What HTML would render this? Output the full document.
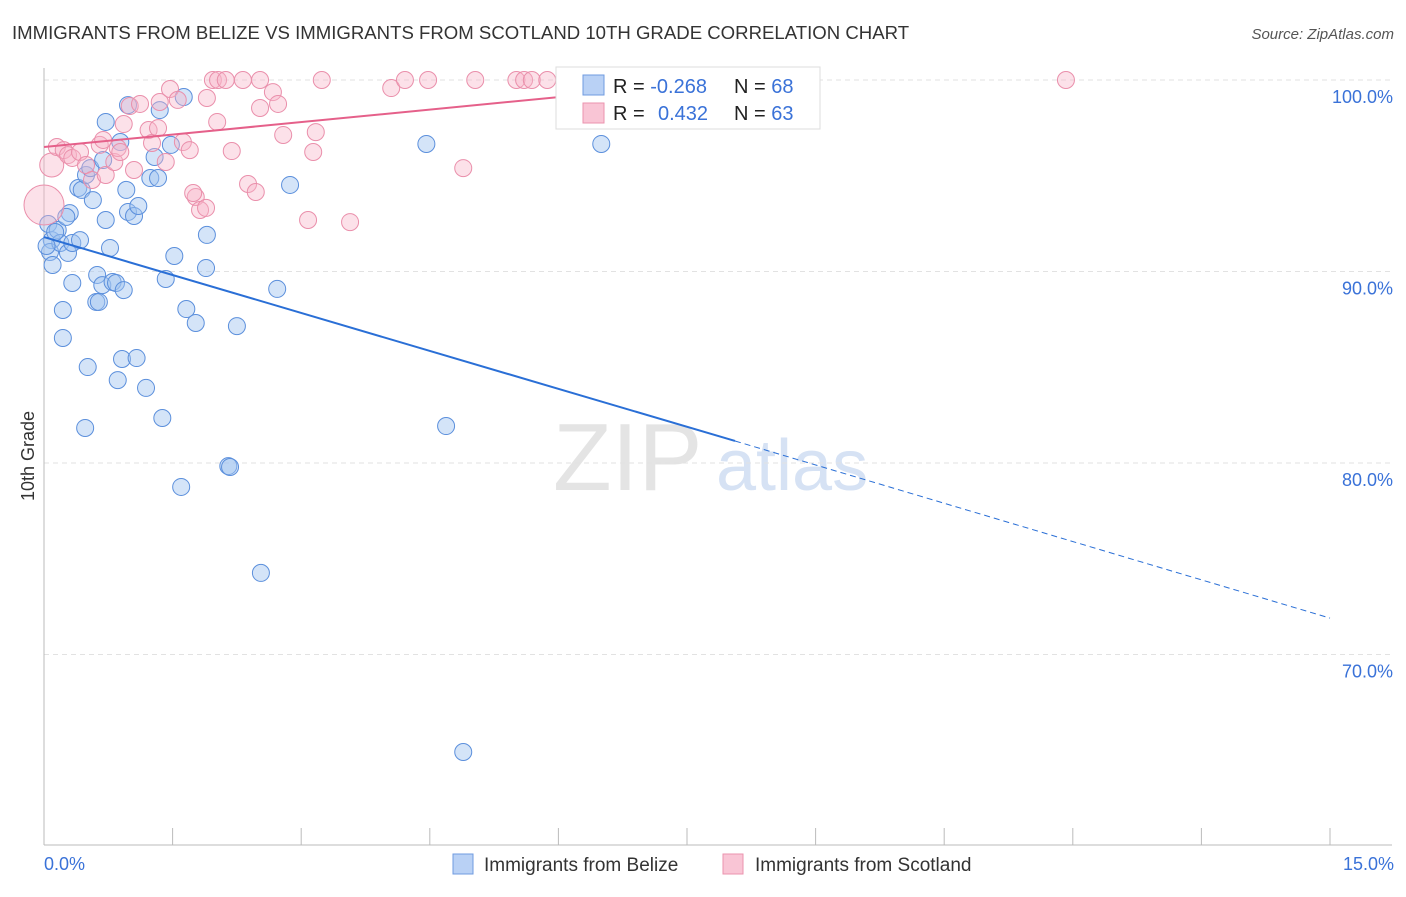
<!DOCTYPE html>
<html><head><meta charset="utf-8"><style>
body{margin:0;background:#fff;font-family:"Liberation Sans",sans-serif;}
svg text{font-family:"Liberation Sans",sans-serif;}
</style></head><body>
<svg id="chart" width="1406" height="892" viewBox="0 0 1406 892">
<text x="12" y="39" font-size="18.6" fill="#333">IMMIGRANTS FROM BELIZE VS IMMIGRANTS FROM SCOTLAND 10TH GRADE CORRELATION CHART</text>
<text x="1394" y="39" font-size="15" fill="#555" font-style="italic" text-anchor="end">Source: ZipAtlas.com</text>
<g><text x="553" y="490" font-size="96" fill="#e4e4e4" font-family="Liberation Serif">ZIP</text><text x="716" y="490" font-size="72" fill="#d6e2f4">atlas</text></g>
<g id="grid"></g><g id="axes"></g><g id="pts"></g><g id="trend"></g>
<text transform="translate(34,456) rotate(-90)" font-size="18" fill="#333" text-anchor="middle">10th Grade</text>
<text x="44" y="870" font-size="18" fill="#3a72d8">0.0%</text>
<text x="1394" y="870" font-size="18" fill="#3a72d8" text-anchor="end">15.0%</text>
<g>
<rect x="556" y="67" width="264" height="62" fill="#fff" stroke="#ddd"/>
<rect x="583" y="75" width="21" height="20" fill="#b9d1f5" stroke="#6f9be0"/>
<rect x="583" y="103" width="21" height="20" fill="#f9c5d5" stroke="#eb93ae"/>
<text x="613" y="93" font-size="20" fill="#222">R = <tspan fill="#3a72d8">-0.268</tspan></text>
<text x="734" y="93" font-size="20" fill="#222">N = <tspan fill="#3a72d8">68</tspan></text>
<text x="613" y="120" font-size="20" fill="#222">R = <tspan fill="#3a72d8" x="658">0.432</tspan></text>
<text x="734" y="120" font-size="20" fill="#222">N = <tspan fill="#3a72d8">63</tspan></text>
</g>
<g>
<rect x="453" y="854" width="20" height="20" fill="#b9d1f5" stroke="#6f9be0"/>
<text x="484" y="871" font-size="19" fill="#333">Immigrants from Belize</text>
<rect x="723" y="854" width="20" height="20" fill="#f9c5d5" stroke="#eb93ae"/>
<text x="755" y="871" font-size="19" fill="#333">Immigrants from Scotland</text>
</g>
</svg>
<script>
const yTicks=[100,90,80,70];
const yTickLabels=["100.0%","90.0%","80.0%","70.0%"];
const xTicks=[0,1.5,3,4.5,6,7.5,9,10.5,12,13.5,15];
const belizeX=[0.05,0.09,0.07,0.10,0.16,0.19,0.28,0.33,0.42,0.40,0.44,0.49,0.54,0.57,0.61,0.64,0.62,0.68,0.72,0.77,0.80,0.84,0.93,0.72,0.69,0.89,0.98,0.96,0.98,1.05,1.10,1.24,1.29,1.33,1.35,1.48,1.63,1.52,1.42,1.66,1.77,1.90,1.89,2.25,2.72,2.87,0.22,0.22,0.33,0.51,0.91,1.08,0.86,1.19,1.38,0.48,1.60,2.15,2.17,2.53,4.46,4.69,4.89,6.50,0.30,0.26,0.03,0.13];
const belizeY=[92.48,91.64,91.02,90.34,92.17,91.49,90.97,91.49,91.64,94.36,94.26,95.04,95.40,93.73,88.41,88.41,89.82,89.29,92.69,91.23,89.45,89.40,89.03,97.81,95.82,96.76,98.69,94.26,93.11,92.90,93.42,94.88,95.98,94.88,98.43,96.61,99.11,90.81,89.61,88.04,87.31,91.91,90.18,87.15,89.09,94.52,87.99,86.53,89.40,85.01,85.43,85.48,84.33,83.92,82.35,81.83,78.75,79.84,79.79,74.26,96.66,81.93,64.91,96.66,93.05,92.85,91.33,92.06];
const scotX=[0.09,0.0,0.15,0.23,0.28,0.33,0.42,0.49,0.56,0.65,0.72,0.69,0.82,0.86,0.89,0.93,1.00,1.05,1.12,1.22,1.26,1.33,1.35,1.42,1.47,1.56,1.62,1.70,1.77,1.82,1.89,1.90,1.97,2.03,2.02,2.12,2.19,2.32,2.38,2.47,2.52,2.52,2.67,2.73,2.79,3.08,3.14,3.17,3.24,3.57,4.05,4.21,4.48,4.89,5.03,5.51,5.60,5.69,5.87,11.92,1.74];
const scotY=[95.56,93.47,96.50,96.34,96.08,95.93,96.24,95.56,94.78,96.61,95.04,96.87,95.72,96.45,96.24,97.70,98.64,95.30,98.75,97.39,96.71,97.49,98.85,95.72,99.53,98.96,96.76,96.34,93.89,93.21,93.32,99.06,100,100,97.81,100,96.29,100,94.57,94.15,100,98.54,99.37,98.75,97.13,92.69,96.24,97.28,100,92.58,99.58,100,100,95.40,100,100,100,100,100,100,94.10];
const scotBig=[12,20];
const belizeTrendX=[0,8.06,15];
const belizeTrendY=[91.80,81.15,71.9];
const scotTrendX=[0,8.06];
const scotTrendY=[96.5,100.0];
const NS="http://www.w3.org/2000/svg";
function sx(v){return 44+v/15*1286;}
function sy(v){return 80+(100-v)*19.15;}
function mk(t,a,p){const e=document.createElementNS(NS,t);for(const k in a)e.setAttribute(k,a[k]);p.appendChild(e);return e;}
const grid=document.getElementById('grid'),axes=document.getElementById('axes'),pts=document.getElementById('pts'),trend=document.getElementById('trend');
yTicks.forEach((v,i)=>{
 const l=mk('line',{x1:44,x2:1392,y1:sy(v),y2:sy(v),stroke:'#e2e2e2','stroke-dasharray':'5,4'},grid);
 
 
 const t=mk('text',{x:1393,y:sy(v)+23,'font-size':18,fill:'#3a72d8','text-anchor':'end'},grid);
 t.textContent=yTickLabels[i];
 
 
});
const ya=mk('line',{x1:44,x2:44,y1:68,y2:845,stroke:'#bbb'},axes);


const xa=mk('line',{x1:44,x2:1392,y1:845,y2:845,stroke:'#bbb'},axes);


xTicks.forEach(v=>{
 const t=mk('line',{x1:sx(v),x2:sx(v),y1:828,y2:845,stroke:'#bbb'},axes);
 
 
});
belizeX.forEach((x,i)=>{
 const c=mk('circle',{cx:sx(x),cy:sy(belizeY[i]),r:8.5,fill:'rgba(160,195,240,0.45)',stroke:'#5b8fdc','stroke-width':1},pts);
 
 
});
scotX.forEach((x,i)=>{
 const r=i<scotBig.length?scotBig[i]:8.5;
 const c=mk('circle',{cx:sx(x),cy:sy(scotY[i]),r:r,fill:'rgba(247,180,200,0.4)',stroke:'#ea8fab','stroke-width':1},pts);
 
 
});
const b1=mk('line',{x1:sx(belizeTrendX[0]),y1:sy(belizeTrendY[0]),x2:sx(belizeTrendX[1]),y2:sy(belizeTrendY[1]),stroke:'#2a6fd6','stroke-width':2},trend);


const b2=mk('line',{x1:sx(belizeTrendX[1]),y1:sy(belizeTrendY[1]),x2:sx(belizeTrendX[2]),y2:sy(belizeTrendY[2]),stroke:'#2a6fd6','stroke-width':1,'stroke-dasharray':'6,4'},trend);


const p1=mk('line',{x1:sx(scotTrendX[0]),y1:sy(scotTrendY[0]),x2:sx(scotTrendX[1]),y2:sy(scotTrendY[1]),stroke:'#e5608a','stroke-width':2},trend);


</script>
</body></html>
